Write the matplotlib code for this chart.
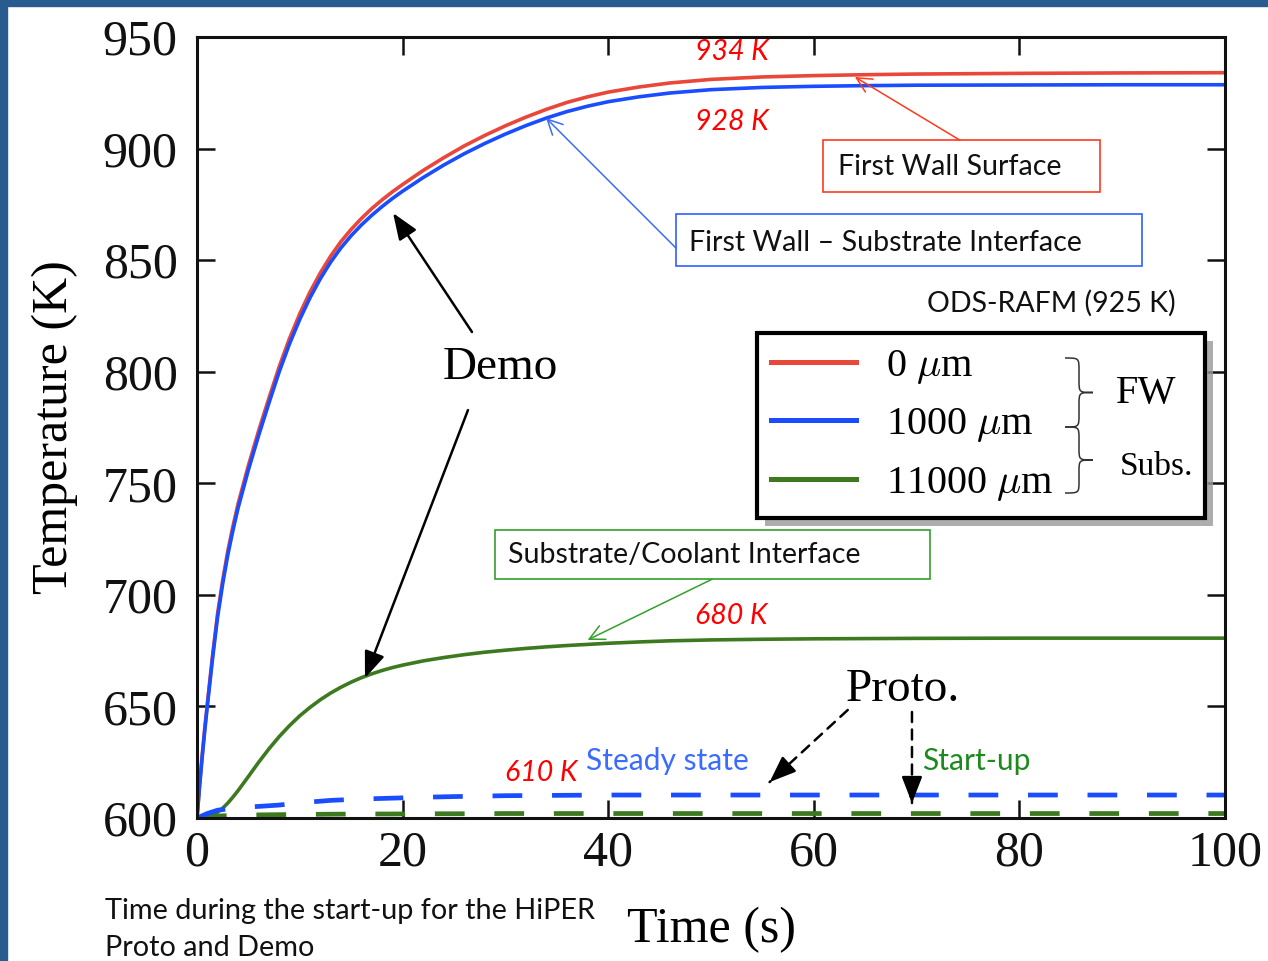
import numpy as np
import matplotlib
matplotlib.use("Agg")
import matplotlib.pyplot as plt
from matplotlib.patches import Rectangle, PathPatch
from matplotlib.path import Path

# Data
t_demo = [0, 0.25, 0.5, 0.75, 1, 1.5, 2, 2.5, 3, 3.5, 4, 5, 6, 7, 8, 9, 10, 11, 12, 13, 14,
          15, 16, 17, 18, 19, 20, 22, 24, 26, 28, 30, 32, 34, 36, 38, 40, 43, 46, 50, 55,
          60, 65, 70, 80, 90, 100]
T_fw_surface = [600, 615, 628, 640, 651, 672.3, 691.5, 706.6, 719.7, 730.8, 740.9, 758,
                773.6, 788.2, 802.3, 814.9, 826, 835.8, 844.3, 851.8, 858.3, 863.8, 868.7,
                873.1, 877, 880.6, 883.9, 890.2, 895.9, 901.2, 905.9, 910.2, 914.1, 917.6,
                920.7, 923.2, 925.3, 927.6, 929.4, 931, 932.1, 932.7, 933.1, 933.4, 933.7,
                933.9, 934]
T_fw_subs = [600, 614, 627, 639, 650, 671, 690, 705, 718, 729, 739, 756, 771.5, 786, 800,
             812.5, 823.5, 833.2, 841.7, 849.1, 855.5, 861, 865.8, 870.1, 874, 877.6, 880.9,
             887, 892.6, 897.7, 902.3, 906.5, 910.3, 913.7, 916.6, 919, 921, 923.2, 924.9,
             926.4, 927.4, 927.9, 928.2, 928.4, 928.5, 928.6, 928.6]
T_subs_cool = [600, 600, 600.1, 600.3, 600.6, 601.4, 602.6, 604.4, 606.7, 609.4, 612.3,
               618.6, 625, 631, 636.5, 641.4, 645.8, 649.6, 653, 656, 658.6, 660.9, 662.9,
               664.6, 666.1, 667.4, 668.5, 670.4, 671.9, 673.2, 674.3, 675.2, 676, 676.7,
               677.3, 677.8, 678.3, 678.9, 679.4, 679.8, 680.1, 680.3, 680.4, 680.5, 680.6,
               680.6, 680.6]

t_proto = [0, 1, 2, 4, 6, 8, 10, 13, 16, 19, 22, 25, 30, 40, 50, 60, 70, 80, 90, 100]
T_proto_steady = [600, 602, 603.5, 604.6, 605.2, 605.8, 606.8, 607.9, 608.5, 608.9, 609.3,
                  609.6, 610, 610.3, 610.3, 610.3, 610.3, 610.3, 610.3, 610.3]
T_proto_start = [600, 600.5, 600.9, 601.2, 601.4, 601.5, 601.6, 601.7, 601.8, 601.8, 601.9,
                 601.9, 602, 602, 602, 602, 602, 602, 602, 602]

legend_labels = [r"0 $\mu$m", r"1000 $\mu$m", r"11000 $\mu$m"]
x_ticks = [0, 20, 40, 60, 80, 100]
y_ticks = [600, 650, 700, 750, 800, 850, 900, 950]

RED = "#e8473a"
BLUE = "#1a4dff"
GREEN = "#3d7a1f"

plt.rcParams["mathtext.fontset"] = "cm"
SERIF = "Liberation Serif"
SANS = "Lato"

W, H = 1268, 961


def fx(x):
    return x / W


def fy(y):
    return 1 - y / H


fig = plt.figure(figsize=(W / 100, H / 100), dpi=100)
fig.patch.set_facecolor("white")

# dark blue slide frame
fig.add_artist(Rectangle((0, 0), fx(7), 1, transform=fig.transFigure, color="#285c8f", zorder=0))
fig.add_artist(Rectangle((0, fy(6)), 1, 1 - fy(6), transform=fig.transFigure, color="#285c8f", zorder=0))

ax = fig.add_axes([fx(197), fy(818), fx(1225) - fx(197), fy(37) - fy(818)])

l_red, = ax.plot(t_demo, T_fw_surface, color=RED, lw=2.6, label=legend_labels[0])
l_blue, = ax.plot(t_demo, T_fw_subs, color=BLUE, lw=2.6, label=legend_labels[1])
l_green, = ax.plot(t_demo, T_subs_cool, color=GREEN, lw=2.6, label=legend_labels[2])
ax.plot(t_proto, T_proto_start, color=GREEN, lw=3.4, linestyle=(0, (6.3, 6.3)))
ax.plot(t_proto, T_proto_steady, color=BLUE, lw=3.4, linestyle=(0, (6.3, 6.3)))

ax.set_xlim(0, 100)
ax.set_ylim(600, 950)
ax.set_xticks(x_ticks)
ax.set_yticks(y_ticks)
ax.tick_params(direction="in", length=13, width=1.8, top=True, right=True,
               labelsize=36, colors="#111111")
ax.tick_params(axis="y", pad=14)
ax.tick_params(axis="x", pad=9)
for lab in ax.get_xticklabels() + ax.get_yticklabels():
    lab.set_fontfamily(SERIF)
for sp in ax.spines.values():
    sp.set_linewidth(2.2)
    sp.set_color("#111111")

fig.text(fx(55), fy(427), "Temperature (K)", rotation=90, ha="center", va="center",
         fontsize=36, family=SERIF)
fig.text(fx(712), fy(930), "Time (s)", ha="center", va="center", fontsize=36, family=SERIF)

# legend
leg = ax.legend(handles=[l_red, l_blue, l_green], loc="upper left",
                bbox_to_anchor=(fx(757), fy(520), fx(1205) - fx(757), fy(333) - fy(520)),
                bbox_transform=fig.transFigure, mode="expand", borderaxespad=0,
                prop={"family": SERIF, "size": 29}, handlelength=2.1, handletextpad=0.75,
                labelspacing=0.51, borderpad=0.36, fancybox=False, framealpha=1,
                edgecolor="black",
                shadow={"ox": 6, "oy": -6, "facecolor": "0.6", "edgecolor": "none", "alpha": 0.8})
leg.get_frame().set_linewidth(3)
for h in leg.legend_handles:
    h.set_linewidth(3.6)


def brace(x_tip_left, y_top, y_bot, x_point):
    xs = (x_tip_left + x_point) / 2
    ym = (y_top + y_bot) / 2
    r = (y_bot - y_top) * 0.18
    pts = [(x_tip_left, y_top), (xs, y_top), (xs, y_top), (xs, y_top + r),
           (xs, ym - r), (xs, ym), (xs, ym), (x_point, ym),
           (xs, ym), (xs, ym), (xs, ym + r),
           (xs, y_bot - r), (xs, y_bot), (xs, y_bot), (x_tip_left, y_bot)]
    codes = [Path.MOVETO, Path.CURVE4, Path.CURVE4, Path.CURVE4,
             Path.LINETO, Path.CURVE4, Path.CURVE4, Path.CURVE4,
             Path.CURVE4, Path.CURVE4, Path.CURVE4,
             Path.LINETO, Path.CURVE4, Path.CURVE4, Path.CURVE4]
    verts = [(fx(x), fy(y)) for x, y in pts]
    fig.add_artist(PathPatch(Path(verts, codes), transform=fig.transFigure, fill=False,
                             lw=1.1, edgecolor="#333333", zorder=10))


brace(1065, 358, 427, 1093)
brace(1065, 427, 493, 1093)
fig.text(fx(1146), fy(393), "FW", ha="center", va="center", fontsize=29, family=SERIF, zorder=10)
fig.text(fx(1156), fy(467), "Subs.", ha="center", va="center", fontsize=24, family=SERIF, zorder=10)

# labelled boxes
boxes = [
    ((823, 140, 1100, 192), "#ff3a1e", "First Wall Surface", 838, 167),
    ((676, 214, 1142, 266), "#3060ff", "First Wall \u2013 Substrate Interface", 689, 243),
    ((495, 530, 930, 579), "#33a02c", "Substrate/Coolant Interface", 508, 555),
]
for (x0, y0, x1, y1), col, txt, tx, ty in boxes:
    fig.add_artist(Rectangle((fx(x0), fy(y1)), fx(x1) - fx(x0), fy(y0) - fy(y1),
                             transform=fig.transFigure, fill=False, edgecolor=col, lw=1.2, zorder=5))
    fig.text(fx(tx), fy(ty), txt, ha="left", va="center", fontsize=20.6, family=SANS,
             color="#111111", zorder=6)

# thin coloured pointers
thin = dict(arrowstyle="->,head_length=0.6,head_width=0.3", lw=1.1, shrinkA=0, shrinkB=0,
            mutation_scale=18)
ax.annotate("", xy=(64.0, 932.1), xytext=(74.2, 903.8), arrowprops=dict(thin, color="#ff3a1e"))
ax.annotate("", xy=(33.95, 913.7), xytext=(46.6, 855.4), arrowprops=dict(thin, color="#3a6cff"))
ax.annotate("", xy=(38.0, 679.8), xytext=(50.1, 707.0), arrowprops=dict(thin, color="#33a02c"))

# Demo arrows
bold = dict(arrowstyle="-|>,head_length=0.9,head_width=0.35", lw=1.8, color="black",
            shrinkA=0, shrinkB=0, mutation_scale=18)
ax.annotate("", xy=(19.07, 871.1), xytext=(26.75, 817.8), arrowprops=bold)
ax.annotate("", xy=(16.34, 662.7), xytext=(26.36, 782.8), arrowprops=bold)
ax.text(29.5, 801.7, "Demo", ha="center", va="center", fontsize=34, family=SERIF)

# Proto arrows: dashed shaft plus solid head
shaft = dict(arrowstyle="-", lw=1.8, color="black", linestyle=(0, (4, 3)), shrinkA=0, shrinkB=0)
for tip, tail in [((55.7, 616.1), (63.3, 648.4)), ((69.55, 606.7), (69.55, 647.5))]:
    ax.annotate("", xy=tip, xytext=tail, arrowprops=shaft)
    near = (tip[0] + 0.08 * (tail[0] - tip[0]), tip[1] + 0.08 * (tail[1] - tip[1]))
    ax.annotate("", xy=tip, xytext=near, arrowprops=bold)
ax.text(68.7, 657.4, "Proto.", ha="center", va="center", fontsize=34, family=SERIF)

# value labels
for x, y, s in [(52.0, 943.3, "934 K"), (52.0, 911.9, "928 K"),
                (52.0, 690.5, "680 K"), (33.5, 620.2, "610 K")]:
    ax.text(x, y, s, ha="center", va="center", fontsize=20.5, family=SANS,
            style="italic", color="#ff0000")
ax.text(37.84, 625.5, "Steady state", ha="left", va="center", fontsize=21.6, family=SANS, color="#3a6cff")
ax.text(70.53, 625.5, "Start-up", ha="left", va="center", fontsize=21.6, family=SANS, color="#1e8a1e")
ax.text(83.07, 830.8, "ODS-RAFM (925 K)", ha="center", va="center", fontsize=20.5, family=SANS,
        color="#111111")

fig.text(fx(105), fy(911), "Time during the start-up for the HiPER", ha="left", va="center",
         fontsize=20.8, family=SANS, color="#111111")
fig.text(fx(105), fy(948), "Proto and Demo", ha="left", va="center",
         fontsize=20.8, family=SANS, color="#111111")

fig.savefig("out.png", dpi=100)
